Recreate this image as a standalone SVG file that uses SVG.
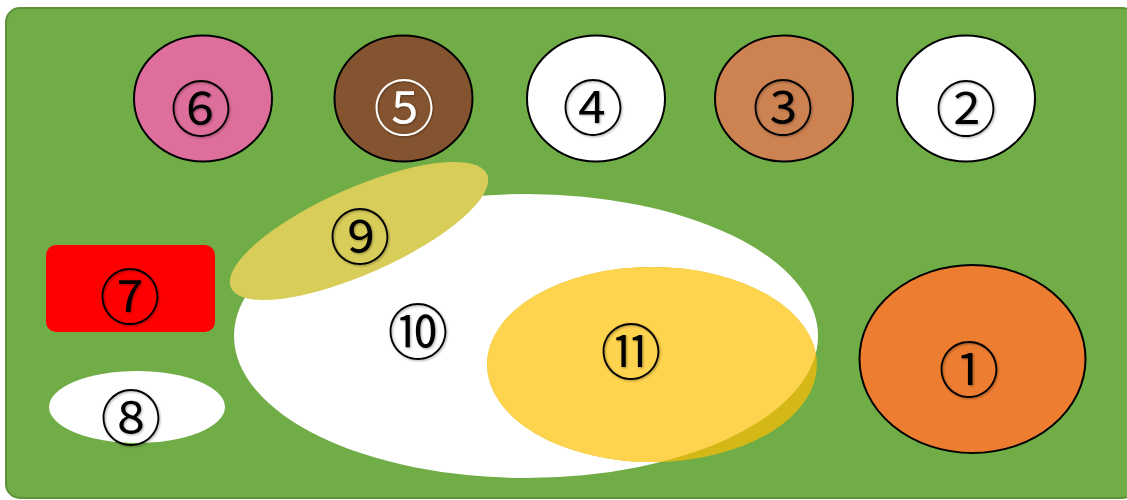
<svg xmlns="http://www.w3.org/2000/svg" width="1127" height="500" viewBox="0 0 1127 500">
<defs>
<filter id="sh" x="-20%" y="-20%" width="140%" height="140%">
<feDropShadow dx="1" dy="1" stdDeviation="1" flood-color="#000" flood-opacity="0.35"/>
</filter>
<clipPath id="inWhite"><ellipse cx="526" cy="336" rx="292" ry="142"/></clipPath>
<style>
.lbl{font-family:"Noto Sans CJK JP","Noto Sans",sans-serif;font-size:61px;font-weight:350;text-anchor:middle;dominant-baseline:central;fill:#000;filter:url(#sh)}
.wl{fill:#fff}
.ring{stroke:#000;stroke-width:2}
</style>
</defs>
<rect id="bg" x="6" y="8" width="1130" height="490" rx="14" fill="#70AD47" stroke="#5E9139" stroke-width="2"/>
<g id="connectors"></g>
<g id="n6"><ellipse class="ring" cx="203" cy="98.5" rx="69" ry="63" fill="#DE6E9B"/><text class="lbl" x="201" y="105">⑥</text></g>
<g id="n5"><ellipse class="ring" cx="403.5" cy="98.5" rx="69" ry="63" fill="#845430"/><text class="lbl wl" x="404" y="104">⑤</text></g>
<g id="n4"><ellipse class="ring" cx="596" cy="98.5" rx="69" ry="63" fill="#FFFFFF"/><text class="lbl" x="593" y="104">④</text></g>
<g id="n3"><ellipse class="ring" cx="784" cy="98.5" rx="69" ry="63" fill="#CD8252"/><text class="lbl" x="783" y="104">③</text></g>
<g id="n2"><ellipse class="ring" cx="966" cy="98.5" rx="69" ry="63" fill="#FFFFFF"/><text class="lbl" x="966" y="105">②</text></g>
<g id="n1"><ellipse class="ring" cx="972.5" cy="359" rx="113" ry="94" fill="#ED7D31"/><text class="lbl" x="969" y="366">①</text></g>
<g id="n7"><rect x="46" y="245" width="169" height="87" rx="10" fill="#FF0000"/><text class="lbl" x="130" y="293">⑦</text></g>
<g id="n8"><ellipse cx="137" cy="407" rx="88" ry="36" fill="#FFFFFF"/><text class="lbl" x="131" y="414">⑧</text></g>
<g id="n10"><ellipse cx="526" cy="336" rx="292" ry="142" fill="#FFFFFF"/><text class="lbl" x="418" y="328">⑩</text></g>
<g id="n11"><ellipse cx="652" cy="364.5" rx="165" ry="97.5" fill="#D4B818"/><ellipse cx="652" cy="364.5" rx="165" ry="97.5" fill="#FED34E" clip-path="url(#inWhite)"/><text class="lbl" x="631" y="348">⑪</text></g>
<g id="n9"><ellipse cx="359" cy="231" rx="140" ry="43" transform="rotate(-23.9 359 231)" fill="#D9CD5A"/><text class="lbl" x="360" y="233">⑨</text></g>
</svg>
